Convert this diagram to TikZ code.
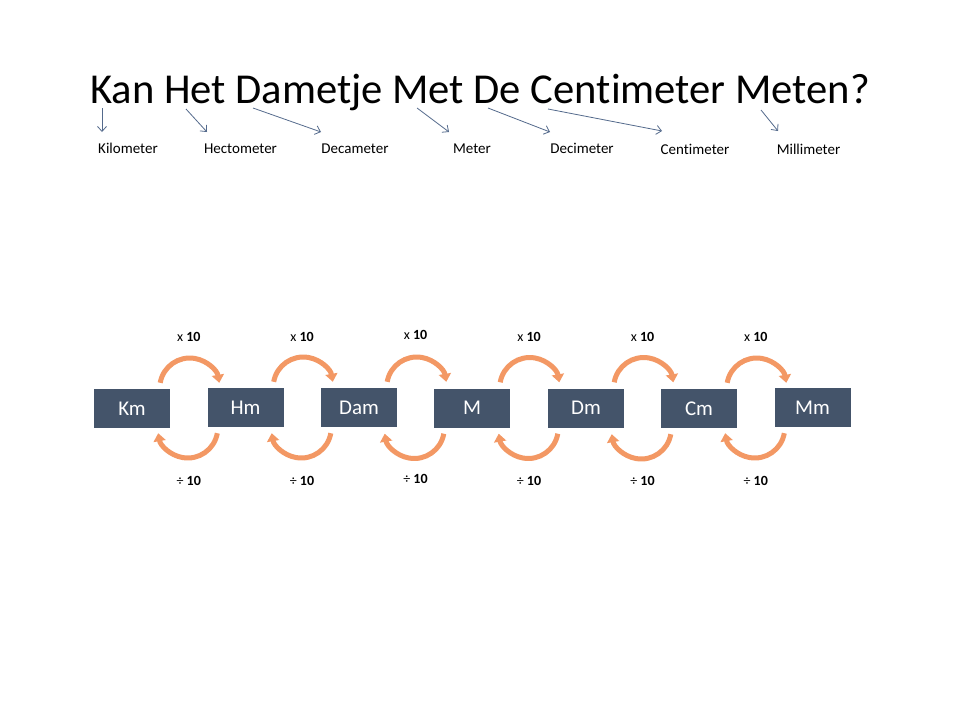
\documentclass[tikz,border=0pt]{standalone}
\usepackage{fontspec}
\setmainfont{Carlito}[Ligatures=NoCommon]
\usetikzlibrary{arrows.meta,calc}
\definecolor{boxblue}{RGB}{68,84,106}
\definecolor{arcorange}{RGB}{243,152,100}
\definecolor{thinblue}{RGB}{84,106,140}
\tikzset{
  unitbox/.style={fill=boxblue, text=white, minimum width=76pt, minimum height=39pt, inner sep=0pt, font=\fontsize{21}{25}\selectfont},
  unitname/.style={font=\fontsize{15}{18}\selectfont, anchor=base, inner sep=0pt},
  pointer/.style={draw=thinblue, line width=0.8pt, -{Straight Barb[length=5pt,width=9pt]}},
  xarc/.style={draw=arcorange, line width=5pt, -{Triangle[width=12pt,length=8pt]}},
  oplabel/.style={font=\fontsize{14}{17}\selectfont, anchor=base, inner sep=0pt},
}
\begin{document}
\begin{tikzpicture}[x=1pt,y=1pt]
\useasboundingbox[fill=white] (0,0) rectangle (960,-720);
% title
\node[anchor=base, inner sep=0pt, font=\fontsize{42.6}{50}\selectfont] (title) at (480,-103) {Kan Het Dametje Met De Centimeter Meten?};
% unit names
\node[unitname] (nkm)  at (128,-153)   {Kilometer};
\node[unitname] (nhm)  at (240.5,-153) {Hectometer};
\node[unitname] (ndam) at (355,-153)   {Decameter};
\node[unitname] (nm)   at (472,-153)   {Meter};
\node[unitname] (ndm)  at (582,-153)   {Decimeter};
\node[unitname] (ncm)  at (695,-154.5) {Centimeter};
\node[unitname] (nmm)  at (808.5,-154.5) {Millimeter};
% pointer coordinates
\coordinate (s1) at (102,-108); \coordinate (e1) at (102,-132);
\coordinate (s2) at (186,-109); \coordinate (e2) at (207,-132);
\coordinate (s3) at (253,-108); \coordinate (e3) at (321,-132);
\coordinate (s4) at (417,-108); \coordinate (e4) at (449,-132);
\coordinate (s5) at (488,-108); \coordinate (e5) at (550,-132);
\coordinate (s6) at (548,-109); \coordinate (e6) at (662,-131);
\coordinate (s7) at (761,-110); \coordinate (e7) at (778,-131);
\foreach \i in {1,...,7} { \draw[pointer] (s\i) -- (e\i); }
% boxes
\node[unitbox] (km)  at (132,-408.5)   {Km};
\node[unitbox] (hm)  at (245.5,-407.5) {Hm};
\node[unitbox] (dam) at (359,-407.5)   {Dam};
\node[unitbox] (m)   at (472,-408)     {M};
\node[unitbox] (dm)  at (586,-408)     {Dm};
\node[unitbox] (cm)  at (699,-408.5)   {Cm};
\node[unitbox] (mm)  at (812.5,-407.5) {Mm};
% arcs and labels
\foreach \a/\b/\i in {km/hm/1, hm/dam/2, dam/m/3, m/dm/4, dm/cm/5, cm/mm/6} {
  \draw[xarc] ([shift={(-10pt,6pt)}]\a.north east) arc[start angle=170,end angle=10,radius=30pt];
  \draw[xarc] ([shift={(10pt,-6pt)}]\b.south west) arc[start angle=-10,end angle=-170,radius=30pt];
}
\foreach \x/\i/\ym/\yd in {188.75/1/341/485.5, 302/2/341/485.5, 415.5/3/339.5/483, 529/4/341/485.5, 642.5/5/341/485.5, 755.75/6/341/485.5} {
  \node[oplabel] (mul\i) at (\x,-\ym) {x \textbf{10}};
  \node[oplabel] (div\i) at (\x,-\yd) {÷ \textbf{10}};
}
\end{tikzpicture}
\end{document}
